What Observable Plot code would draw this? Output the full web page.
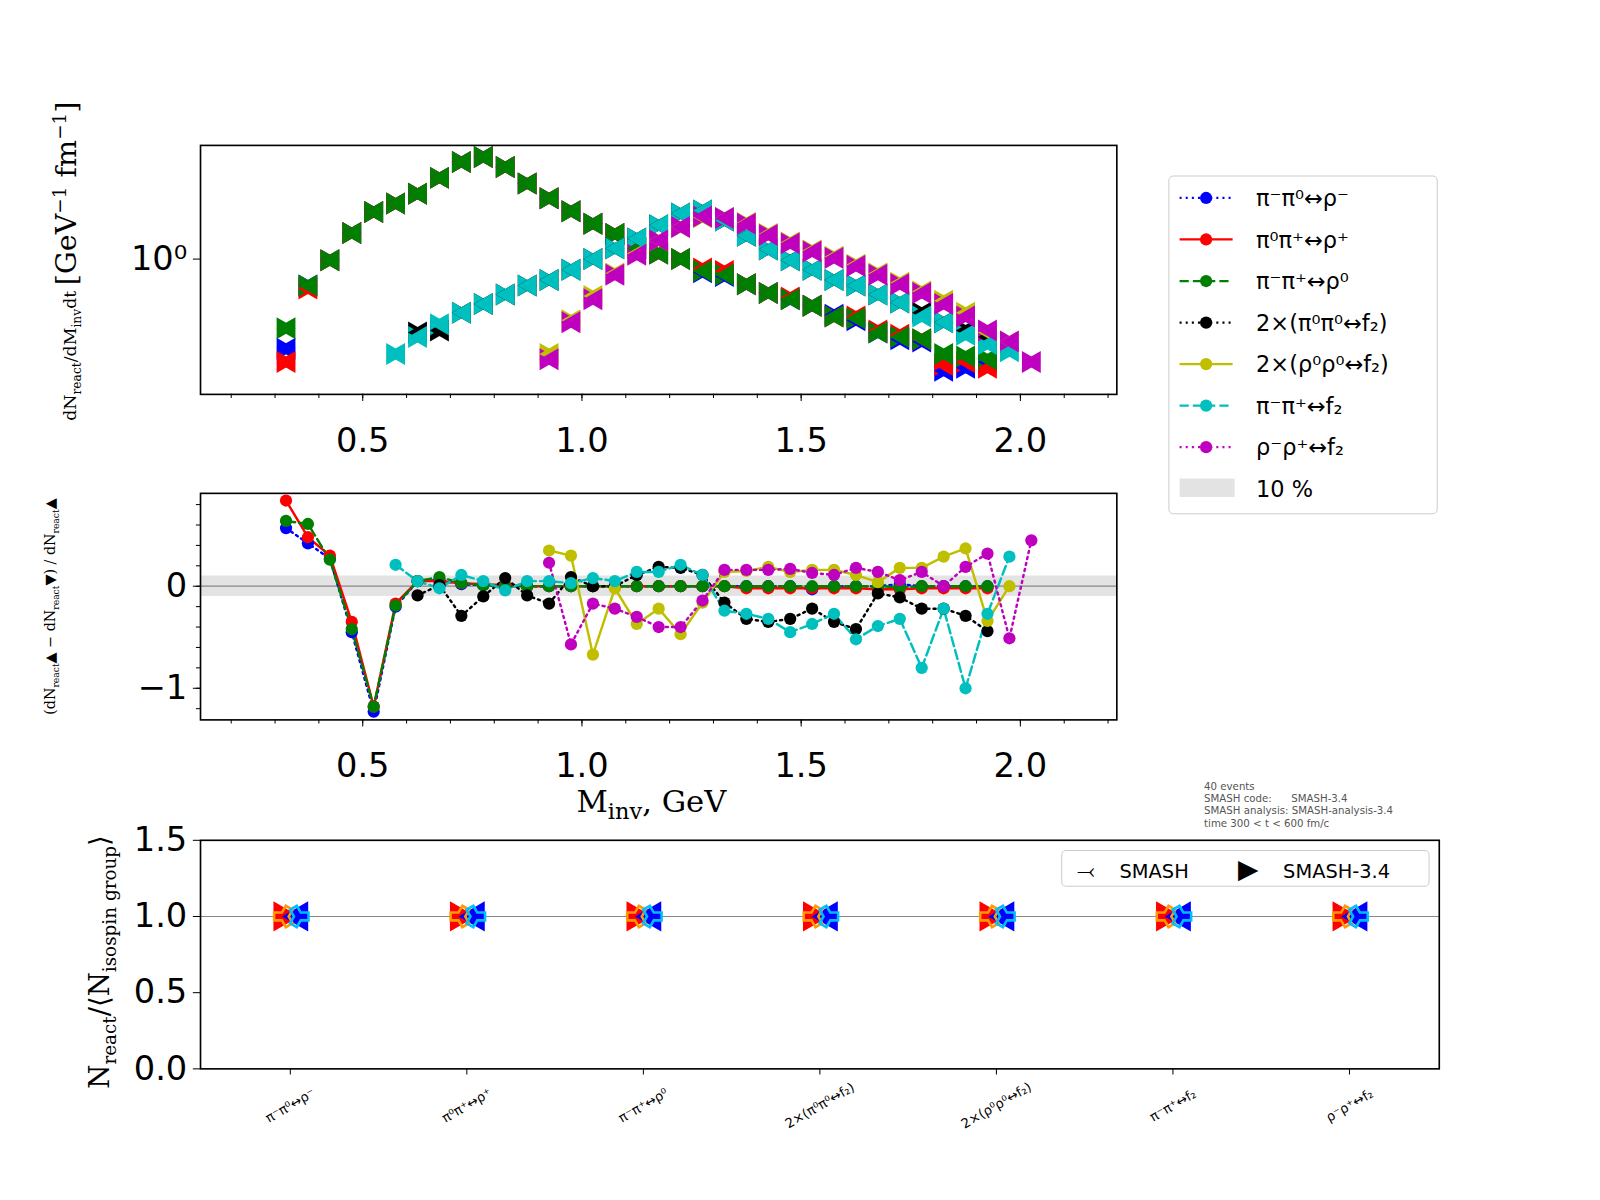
<!DOCTYPE html>
<html><head><meta charset="utf-8">
<script src="https://cdn.jsdelivr.net/npm/d3@7"></script>
<script src="https://cdn.jsdelivr.net/npm/@observablehq/plot@0.6"></script>
<style>
body{margin:0;background:#fff;font-family:"DejaVu Sans",sans-serif;overflow:hidden}
#c{position:relative;width:1568px;height:1176px;overflow:hidden;transform:scale(1.0204);transform-origin:0 0}
.a{position:absolute}
.rot{position:absolute;transform-origin:center;transform:rotate(-90deg);white-space:nowrap}
</style></head><body><div id="c"></div>
<script>
const x0 = 0.325, dx = 0.05;
const names = ["π⁻π⁰↔ρ⁻","π⁰π⁺↔ρ⁺","π⁻π⁺↔ρ⁰","2×(π⁰π⁰↔f₂)","2×(ρ⁰ρ⁰↔f₂)","π⁻π⁺↔f₂","ρ⁻ρ⁺↔f₂"];
const colors = ["#0000ff","#ff0000","#008000","#000000","#bfbf00","#00bfbf","#bf00bf"];
const dashes = ["2,4","none","9,4","2,4","none","9,4","2,4"];
const N = null;
// top panel dN/dMdt, slots x = 0.325 + 0.05 i
const topBlue  = [0.45,0.79,0.99,1.26,1.52,1.64,1.79,2.06,2.37,2.48,2.27,1.96,1.72,1.53,1.37,1.25,1.10,1.05,1.0,0.89,0.86,0.80,0.74,0.70,0.66,0.61,0.58,0.52,0.49,0.48,0.37,0.38,0.40,N,N];
const topRed   = [0.40,0.77,0.99,1.26,1.52,1.64,1.79,2.06,2.37,2.48,2.27,1.96,1.72,1.53,1.37,1.25,1.10,1.05,1.0,0.92,0.90,0.80,0.74,0.71,0.66,0.60,0.60,0.53,0.51,0.49,0.39,0.40,0.38,N,N];
const topGreen = [0.54,0.79,0.99,1.26,1.52,1.64,1.79,2.06,2.37,2.48,2.27,1.96,1.72,1.53,1.37,1.25,1.10,1.05,1.0,0.90,0.87,0.80,0.74,0.70,0.66,0.60,0.59,0.52,0.50,0.49,0.43,0.42,0.41,N,N];
const topBlack = [N,N,N,N,N,N,0.52,0.53,0.62,0.67,0.73,0.79,0.83,0.91,1.0,1.10,1.20,1.35,1.50,1.54,1.41,1.23,1.09,0.99,0.91,0.83,0.79,0.73,0.68,0.62,0.57,0.53,0.50,N,N];
const topYellow= [N,N,N,N,N,N,N,N,N,N,N,N,0.43,0.58,0.72,0.88,1.05,1.18,1.33,1.45,1.44,1.38,1.25,1.16,1.08,1.02,0.95,0.88,0.81,0.75,0.69,0.62,0.52,0.48,N];
const topCyan  = [N,N,N,N,N,0.43,0.50,0.56,0.62,0.67,0.73,0.79,0.83,0.91,1.0,1.10,1.20,1.35,1.50,1.54,1.41,1.23,1.09,0.99,0.91,0.83,0.79,0.73,0.68,0.60,0.57,0.51,0.47,0.44,N];
const topMag   = [N,N,N,N,N,N,N,N,N,N,N,N,0.41,0.57,0.70,0.87,1.04,1.18,1.33,1.46,1.44,1.37,1.24,1.15,1.07,1.01,0.94,0.87,0.80,0.74,0.67,0.60,0.53,0.48,0.40];
// middle panel relative difference
const rBlue  = [0.57,0.42,0.27,-0.45,-1.23,-0.20,0.05,0.06,0.02,0.01,0,0,0,0,0,0,0,0,0,0,0,0,0,0,-0.03,0,0,0,0.02,0,0,0,0,N,N];
const rRed   = [0.84,0.48,0.30,-0.35,-1.18,-0.17,0.05,0.05,0.03,0.02,0.01,0,0,0,0,0,0,0,0,0,0,-0.02,-0.02,-0.02,-0.02,-0.02,-0.02,-0.03,-0.03,-0.02,-0.02,-0.02,-0.02,N,N];
const rGreen = [0.64,0.61,0.26,-0.42,-1.18,-0.19,0.05,0.09,0.03,0.01,0,0,0,0,0,0,0,0,0,0,0,0,0,0,0,0,0,0,-0.01,0,0,0,0,N,N];
const rBlack = [N,N,N,N,N,N,-0.09,0.01,-0.29,-0.10,0.08,-0.09,-0.17,0.09,0,0,0.11,0.19,0.18,0.11,-0.16,-0.32,-0.35,-0.32,-0.22,-0.35,-0.42,-0.07,-0.11,-0.22,-0.22,-0.29,-0.44,N,N];
const rYellow= [N,N,N,N,N,N,N,N,N,N,N,N,0.35,0.30,-0.67,-0.02,-0.37,-0.22,-0.47,-0.16,0.14,0.15,0.19,0.14,0.16,0.16,0.11,0.04,0.18,0.18,0.29,0.37,-0.34,0,N];
const rCyan  = [N,N,N,N,N,0.21,0.05,-0.02,0.11,0.05,-0.04,0.05,0.05,0.03,0.08,0.05,0.14,0.14,0.21,0.11,-0.24,-0.27,-0.32,-0.45,-0.37,-0.27,-0.52,-0.39,-0.32,-0.80,-0.22,-1.0,-0.27,0.29,N];
const rMag   = [N,N,N,N,N,N,N,N,N,N,N,N,0.23,-0.57,-0.17,-0.22,-0.30,-0.40,-0.40,-0.14,0.16,0.16,0.16,0.17,0.13,0.11,0.18,0.14,0.06,0.14,0,0.19,0.32,-0.51,0.45];
// bottom panel
const ratioBottom = [1,1,1,1,1,1,1];

const tops = [topBlue,topRed,topGreen,topBlack,topYellow,topCyan,topMag];
const rats = [rBlue,rRed,rGreen,rBlack,rYellow,rCyan,rMag];
function rows(arrs){const out=[];arrs.forEach((a,s)=>a.forEach((v,i)=>{if(v!=null)out.push({x:+(x0+dx*i).toFixed(3),v,s});}));return out;}
const topData = rows(tops), ratData = rows(rats);
const C = document.getElementById("c");
function place(el,l,t){el.style.position="absolute";el.style.left=l+"px";el.style.top=t+"px";C.appendChild(el);}
const xdom=[0.13,2.22];
const minor=d3.range(0.2,2.201,0.1).map(v=>+v.toFixed(2));
const xAxes=[Plot.axisX(minor,{tickSize:4,tickFormat:()=>""}),
  Plot.axisX([0.5,1.0,1.5,2.0],{tickSize:7,fontSize:33,tickPadding:26,tickFormat:d3.format(".1f"),fill:"#000"})];

// top
const p1 = Plot.plot({width:1100,height:330,marginLeft:196,marginRight:6,marginTop:12,marginBottom:74,
 style:{fontFamily:"DejaVu Sans",color:"#000",overflow:"visible"},
 x:{domain:xdom,label:null},y:{type:"log",domain:[0.30,2.75],label:null},
 marks:[...xAxes,
  Plot.axisY([1],{tickSize:7,fontSize:33,tickFormat:()=>"10⁰",tickPadding:6}),
  Plot.dot(topData,{x:"x",y:"v",symbol:"triangle",rotate:90,r:8,fill:d=>colors[d.s],dx:-3}),
  Plot.dot(topData,{x:"x",y:"v",symbol:"triangle",rotate:-90,r:8,fill:d=>colors[d.s],dx:3}),
  Plot.frame({stroke:"#000",strokeWidth:1.6})]});
place(p1,0,130);

// middle
const lineMarks = rats.map((a,s)=>Plot.line(ratData.filter(d=>d.s===s),{x:"x",y:"v",stroke:colors[s],strokeWidth:2.4,strokeDasharray:dashes[s]}));
const p2 = Plot.plot({width:1100,height:300,marginLeft:196,marginRight:6,marginTop:13,marginBottom:65,
 style:{fontFamily:"DejaVu Sans",color:"#000",overflow:"visible"},
 x:{domain:xdom,label:null},y:{domain:[-1.31,0.91],label:null},
 marks:[...xAxes,
  Plot.rect([{a:-0.1,b:0.1}],{x1:xdom[0],x2:xdom[1],y1:"a",y2:"b",fill:"#e3e3e3"}),
  Plot.ruleY([0],{stroke:"#888",strokeWidth:1.2}),
  Plot.axisY(d3.range(-1.2,0.81,0.2).map(v=>+v.toFixed(1)),{tickSize:4,tickFormat:()=>""}),
  Plot.axisY([-1,0],{tickSize:7,fontSize:33,tickPadding:6,tickFormat:d=>d===0?"0":"−1"}),
  ...lineMarks,
  Plot.dot(ratData,{x:"x",y:"v",r:6,fill:d=>colors[d.s]}),
  Plot.frame({stroke:"#000",strokeWidth:1.6})]});
place(p2,0,470);

// bottom
const catRows = names.map((n,i)=>({n,v:ratioBottom[i]}));
const p3 = Plot.plot({width:1420,height:300,marginLeft:196,marginRight:10,marginTop:13,marginBottom:63,
 style:{fontFamily:"DejaVu Sans",color:"#000",overflow:"visible"},
 x:{type:"point",domain:names,padding:0.5,label:null},y:{domain:[0,1.5],label:null},
 marks:[
  Plot.axisX({tickSize:6,fontSize:13,tickRotate:-30,tickPadding:30,textAnchor:"middle"}),
  Plot.axisY([0,0.5,1,1.5],{tickSize:7,fontSize:33,tickPadding:6,tickFormat:d3.format(".1f")}),
  Plot.ruleY([1],{stroke:"#888",strokeWidth:1.2}),
  Plot.dot(catRows,{x:"n",y:"v",symbol:"triangle",rotate:90,r:11,fill:"#ff0000",dx:-8}),
  Plot.dot(catRows,{x:"n",y:"v",symbol:"triangle",rotate:-90,r:11,fill:"#0000ff",dx:9}),
  Plot.dot(catRows,{x:"n",y:"v",symbol:"wye",rotate:90,r:8,stroke:"#ff9900",strokeWidth:2.5,dx:-6}),
  Plot.dot(catRows,{x:"n",y:"v",symbol:"wye",rotate:-90,r:8,stroke:"#00bfff",strokeWidth:2.5,dx:8}),
  Plot.frame({stroke:"#000",strokeWidth:1.6})]});
place(p3,0,810);

// html texts
function txt(html,l,t,css){const d=document.createElement("div");d.className="a";d.innerHTML=html;d.style.left=l+"px";d.style.top=t+"px";if(css)d.style.cssText+=css;C.appendChild(d);return d;}
txt('M<sub style="font-size:22px">inv</sub>, GeV',565,768,'font-size:30px;font-family:"DejaVu Serif",serif');
const r1=document.createElement("div");r1.className="rot";
r1.innerHTML='<span style="font-family:DejaVu Serif">dN<sub style="font-size:12px">react</sub>/dM<sub style="font-size:12px">inv</sub>dt</span> <span style="font-size:28px;font-family:DejaVu Serif">[GeV<sup style="font-size:18px">−1</sup> fm<sup style="font-size:18px">−1</sup>]</span>';
r1.style.cssText+='font-size:17px;left:-85px;top:245px;width:300px;text-align:center';C.appendChild(r1);
const r2=document.createElement("div");r2.className="rot";
r2.innerHTML='<span style="font-family:DejaVu Serif">(dN<sub style="font-size:9px">react</sub>▲ − dN<sub style="font-size:9px">react</sub>▼) / dN<sub style="font-size:9px">react</sub>▲</span>';
r2.style.cssText+='font-size:14px;left:-60px;top:585px;width:220px;text-align:center';C.appendChild(r2);
const r3=document.createElement("div");r3.className="rot";
r3.innerHTML='<span style="font-family:DejaVu Serif">N<sub style="font-size:18px">react</sub>/⟨N<sub style="font-size:18px">isospin group</sub>⟩</span>';
r3.style.cssText+='font-size:27px;left:-50px;top:925px;width:300px;text-align:center';C.appendChild(r3);
txt('40 events<br>SMASH code:&nbsp;&nbsp;&nbsp;&nbsp;&nbsp;&nbsp;SMASH-3.4<br>SMASH analysis: SMASH-analysis-3.4<br>time 300 &lt; t &lt; 600 fm/c',1180,765,'font-size:10px;color:#555;line-height:12px');
// legend
const lg=txt('',1145,172,'width:262px;height:330px;border:1px solid #ccc;border-radius:5px;background:#fff');
const lsvg=d3.create("svg").attr("width",262).attr("height",330);
names.forEach((n,i)=>{const y=21+i*40.7;
 lsvg.append("line").attr("x1",10).attr("x2",62).attr("y1",y).attr("y2",y).attr("stroke",colors[i]).attr("stroke-width",2.2).attr("stroke-dasharray",dashes[i]);
 lsvg.append("circle").attr("cx",36).attr("cy",y).attr("r",6).attr("fill",colors[i]);
 lsvg.append("text").attr("x",85).attr("y",y+8).attr("font-size",22).text(n);});
lsvg.append("rect").attr("x",10).attr("y",296).attr("width",54).attr("height",18).attr("fill","#e3e3e3");
lsvg.append("text").attr("x",85).attr("y",314).attr("font-size",22).text("10 %");
lg.appendChild(lsvg.node());
txt('<span style="font-size:22px">⤙</span>&nbsp;&nbsp;&nbsp; SMASH &nbsp;&nbsp;&nbsp;&nbsp;&nbsp;&nbsp;&nbsp;<span style="font-size:26px">▶</span>&nbsp;&nbsp;&nbsp; SMASH-3.4',1040,833,'width:345px;height:34px;padding-left:14px;border:1px solid #ccc;border-radius:5px;font-size:19px;line-height:34px');
</script></body></html>
